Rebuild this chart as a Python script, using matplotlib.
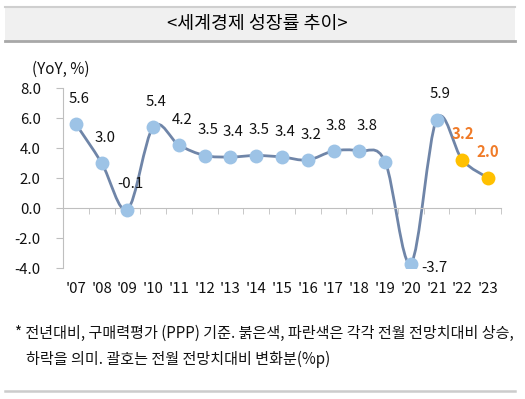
import matplotlib
matplotlib.use("Agg")
import matplotlib.pyplot as plt
from matplotlib.path import Path
from matplotlib.patches import PathPatch, Rectangle
from matplotlib.lines import Line2D
import numpy as np

plt.rcParams['font.family'] = ['Noto Sans CJK KR', 'DejaVu Sans']

years = ["'07", "'08", "'09", "'10", "'11", "'12", "'13", "'14", "'15", "'16",
         "'17", "'18", "'19", "'20", "'21", "'22", "'23"]
growth = [5.6, 3.0, -0.1, 5.4, 4.2, 3.5, 3.4, 3.5, 3.4, 3.2,
          3.8, 3.8, 3.1, -3.7, 5.9, 3.2, 2.0]
labels = ["5.6", "3.0", "-0.1", "5.4", "4.2", "3.5", "3.4", "3.5", "3.4", "3.2",
          "3.8", "3.8", "", "-3.7", "5.9", "3.2", "2.0"]
forecast = [False] * 15 + [True, True]
yticks = [-4.0, -2.0, 0.0, 2.0, 4.0, 6.0, 8.0]

title = "<세계경제 성장률 추이>"
ylabel = "(YoY, %)"
note1 = "* 전년대비, 구매력평가 (PPP) 기준. 붉은색, 파란색은 각각 전월 전망치대비 상승,"
note2 = "하락을 의미. 괄호는 전월 전망치대비 변화분(%p)"

LINE = '#6f85a8'
MARK = '#9dc3e6'
ORANGE_M = '#ffc000'
ORANGE_T = '#f07b28'
AXC = '#bfbfbf'

W, H = 525, 399
fig = plt.figure(figsize=(W / 100, H / 100), dpi=100)

def fx(px):
    return px / W

def fy(py):
    return 1 - py / H

# title band
fig.patches.append(Rectangle((fx(5), fy(41)), fx(510), 35 / H, transform=fig.transFigure,
                             facecolor='#f0f0f0', edgecolor='none', zorder=0))
fig.add_artist(Line2D([fx(5), fx(515)], [fy(6.5), fy(6.5)], transform=fig.transFigure,
                      color='#cfcfcf', lw=1.5))
fig.add_artist(Line2D([fx(5), fx(515)], [fy(41), fy(41)], transform=fig.transFigure,
                      color='#a8a8a8', lw=2))
fig.text(fx(257), fy(23.5), title, ha='center', va='center', fontsize=13.2,
         fontweight='medium', color='black')

# footnote
fig.text(fx(15), fy(333), note1, ha='left', va='center', fontsize=10.85, color='#111111')
fig.text(fx(26), fy(359), note2, ha='left', va='center', fontsize=10.85, color='#111111')
fig.add_artist(Line2D([fx(5), fx(515)], [fy(390.5), fy(390.5)], transform=fig.transFigure,
                      color='#cccccc', lw=1.8))

ax = fig.add_axes([fx(63), fy(268), fx(501) - fx(63), (268 - 88) / H])
n = len(years)
x = np.arange(n)
ax.set_xlim(-0.5, n - 0.5)
ax.set_ylim(-4, 8)

# smoothed line (Catmull-Rom cubic bezier through data points)
pts = np.column_stack([x, growth]).astype(float)
verts = [tuple(pts[0])]
codes = [Path.MOVETO]
for i in range(n - 1):
    p0 = pts[i - 1] if i > 0 else pts[i]
    p1 = pts[i]
    p2 = pts[i + 1]
    p3 = pts[i + 2] if i + 2 < n else pts[i + 1]
    c1 = p1 + (p2 - p0) / 6.0
    c2 = p2 - (p3 - p1) / 6.0
    verts += [tuple(c1), tuple(c2), tuple(p2)]
    codes += [Path.CURVE4] * 3
ax.add_patch(PathPatch(Path(verts, codes), facecolor='none', edgecolor=LINE, lw=2.0,
                       zorder=2, capstyle='round', joinstyle='round'))

for xi, yi, f, lab in zip(x, growth, forecast, labels):
    ax.plot(xi, yi, 'o', ms=10, color=ORANGE_M if f else MARK, mec='none', zorder=3)

# data labels
for i, (xi, yi, f, lab) in enumerate(zip(x, growth, forecast, labels)):
    if not lab:
        continue
    if i == 13:
        dx, dy = 24, -4
    elif i == 11:
        dx, dy = 8, 25
    elif i == 15:
        dx, dy = 1, 26
    elif i == 16:
        dx, dy = 0, 26
    else:
        dx, dy = 3, 25
    ax.annotate(lab, (xi, yi), xytext=(dx * 0.72, dy * 0.72), textcoords='offset points',
                ha='center', va='center', fontsize=10.8,
                color=ORANGE_T if f else '#111111',
                fontweight='bold' if f else 'normal', zorder=4)

# axes styling
for s in ['top', 'right']:
    ax.spines[s].set_visible(False)
ax.spines['left'].set_color(AXC)
ax.spines['bottom'].set_color(AXC)
ax.spines['bottom'].set_position(('data', 0))
ax.set_yticks(yticks)
ax.set_yticklabels([f"{v:.1f}" for v in yticks])
ax.tick_params(axis='y', length=5, color=AXC, labelsize=10.8, pad=11, labelcolor='#111111')
ax.set_xticks(x)
ax.set_xticklabels([])
ax.tick_params(axis='x', which='major', length=0)
ax.set_xticks(np.arange(n + 1) - 0.5, minor=True)
ax.tick_params(axis='x', which='minor', length=4, color=AXC, direction='out')

sec = ax.secondary_xaxis('bottom')
sec.set_xticks(x)
sec.set_xticklabels(years)
sec.spines['bottom'].set_visible(False)
sec.tick_params(length=0, labelsize=10.8, pad=10, labelcolor='#111111')

fig.text(fx(60.5), fy(69), ylabel, ha='center', va='center', fontsize=11, color='#111111')

fig.savefig('out.png', dpi=100, facecolor='white')
